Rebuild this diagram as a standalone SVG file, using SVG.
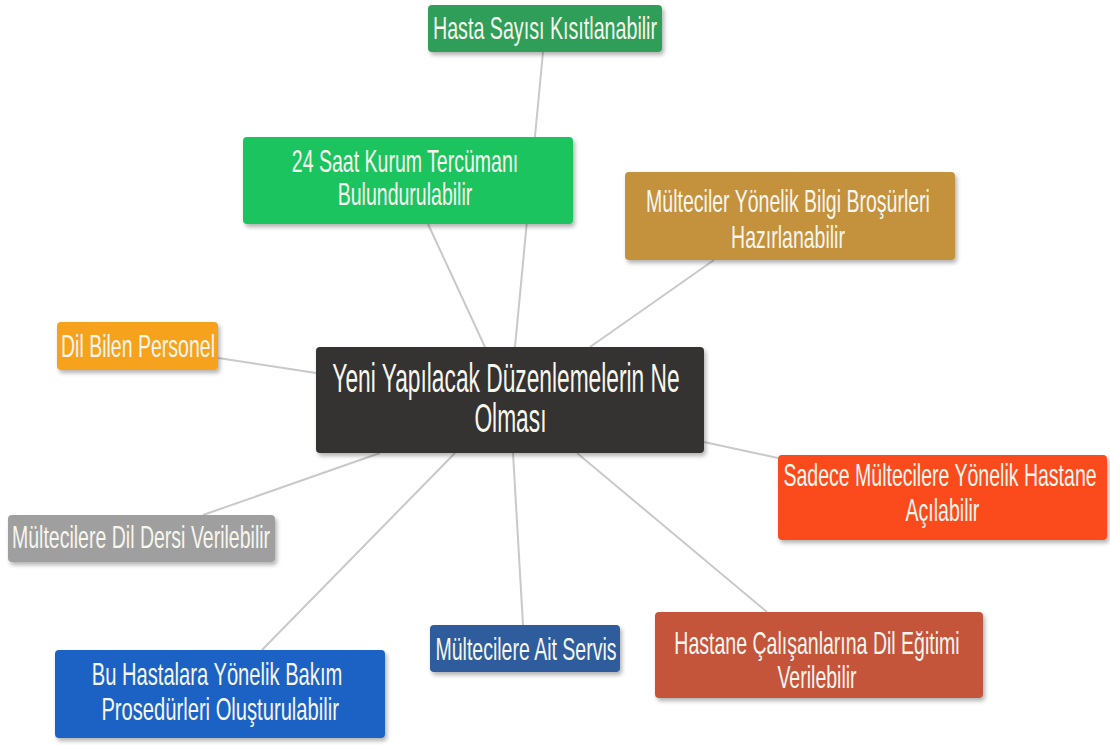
<svg xmlns="http://www.w3.org/2000/svg" width="1110" height="745" viewBox="0 0 1110 745">
<defs>
<filter id="sh" x="-10%" y="-20%" width="125%" height="150%">
<feDropShadow dx="2" dy="3" stdDeviation="2" flood-color="#000" flood-opacity="0.3"/>
</filter>
<style>
.n{filter:url(#sh)}
.t{font-family:"Liberation Sans",Arial,sans-serif;font-size:32px;fill:#f6f6ee;text-anchor:middle}
.c{font-size:41px}
.l{stroke:#c9c9c9;stroke-width:2;fill:none}
</style>
</defs>
<rect width="1110" height="745" fill="#fff"/>
<g id="connectors">
<line class="l" x1="543" y1="52" x2="515" y2="347"/>
<line class="l" x1="428" y1="224" x2="485" y2="347"/>
<line class="l" x1="714" y1="260" x2="590" y2="347"/>
<line class="l" x1="218" y1="358" x2="316" y2="373"/>
<line class="l" x1="704" y1="442" x2="778" y2="458"/>
<line class="l" x1="380" y1="453" x2="203" y2="515"/>
<line class="l" x1="455" y1="453" x2="262" y2="650"/>
<line class="l" x1="513" y1="453" x2="523" y2="625"/>
<line class="l" x1="577" y1="453" x2="767" y2="612"/>
</g>
<g id="n-hasta-sayisi">
<rect class="n" x="428" y="5" width="234" height="47" rx="4" fill="#2e9e58"/>
<text class="t" transform="translate(545 0) scale(0.615 1)" x="0" y="39">Hasta Sayısı Kısıtlanabilir</text>
</g>
<g id="n-24-saat">
<rect class="n" x="243" y="137" width="330" height="87" rx="4" fill="#1ec461"/>
<text class="t" transform="translate(405 0) scale(0.61 1)"><tspan x="0" y="172">24 Saat Kurum Tercümanı</tspan><tspan x="0" y="205">Bulundurulabilir</tspan></text>
</g>
<g id="n-brosur">
<rect class="n" x="625" y="172" width="330" height="88" rx="4" fill="#c4913c"/>
<text class="t" transform="translate(788 0) scale(0.61 1)"><tspan x="0" y="212">Mülteciler Yönelik Bilgi Broşürleri</tspan><tspan x="0" y="248">Hazırlanabilir</tspan></text>
</g>
<g id="n-dil-bilen">
<rect class="n" x="57" y="322" width="161" height="48" rx="4" fill="#f7a21b"/>
<text class="t" transform="translate(138 0) scale(0.61 1)" x="0" y="357">Dil Bilen Personel</text>
</g>
<g id="n-center">
<rect class="n" x="316" y="347" width="388" height="106" rx="4" fill="#363232"/>
<text class="t c" transform="translate(506 0) scale(0.555 1)"><tspan x="0" y="392">Yeni Yapılacak Düzenlemelerin Ne</tspan><tspan x="8" y="432">Olması</tspan></text>
</g>
<g id="n-sadece">
<rect class="n" x="778" y="455" width="329" height="85" rx="4" fill="#fb4b1b"/>
<text class="t" transform="translate(940 0) scale(0.61 1)"><tspan x="0" y="486">Sadece Mültecilere Yönelik Hastane</tspan><tspan x="4" y="521">Açılabilir</tspan></text>
</g>
<g id="n-dil-dersi">
<rect class="n" x="8" y="515" width="267" height="47" rx="4" fill="#9f9f9f"/>
<text class="t" transform="translate(141 0) scale(0.61 1)" x="0" y="548">Mültecilere Dil Dersi Verilebilir</text>
</g>
<g id="n-bakim">
<rect class="n" x="55" y="650" width="330" height="88" rx="4" fill="#1f62c4"/>
<text class="t" transform="translate(217 0) scale(0.63 1)"><tspan x="0" y="685">Bu Hastalara Yönelik Bakım</tspan><tspan x="5" y="720">Prosedürleri Oluşturulabilir</tspan></text>
</g>
<g id="n-ait-servis">
<rect class="n" x="430" y="625" width="190" height="47" rx="4" fill="#2d5c9c"/>
<text class="t" transform="translate(526 0) scale(0.61 1)" x="0" y="660">Mültecilere Ait Servis</text>
</g>
<g id="n-hastane-calisan">
<rect class="n" x="655" y="612" width="328" height="86" rx="4" fill="#c4553b"/>
<text class="t" transform="translate(817 0) scale(0.61 1)"><tspan x="0" y="654">Hastane Çalışanlarına Dil Eğitimi</tspan><tspan x="0" y="688">Verilebilir</tspan></text>
</g>
</svg>
